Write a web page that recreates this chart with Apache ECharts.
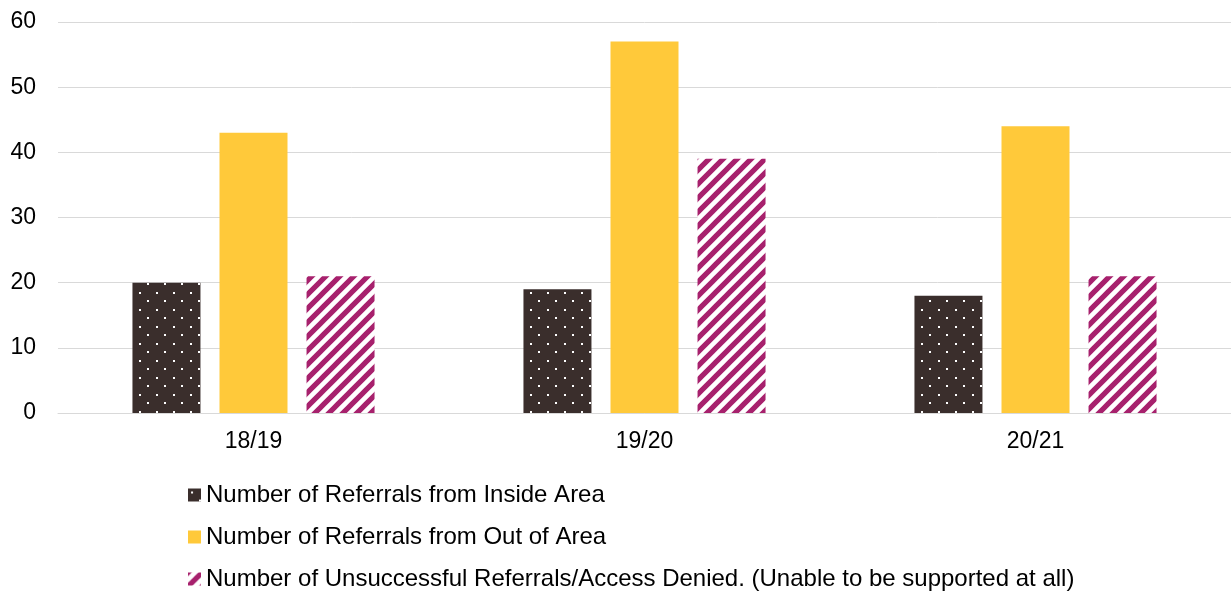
<!DOCTYPE html>
<html>
<head>
<meta charset="utf-8">
<script src="https://cdn.jsdelivr.net/npm/echarts@6/dist/echarts.min.js"></script>
<style>html,body{margin:0;padding:0;background:#fff;}#c{width:1231px;height:593px;}</style>
</head>
<body>
<div id="c"></div>
<script>
const categories = ['18/19', '19/20', '20/21'];
const insideArea = [20, 19, 18];
const outOfArea = [43, 57, 44];
const unsuccessful = [21, 39, 21];
const seriesNames = [
  'Number of Referrals from Inside Area',
  'Number of Referrals from Out of Area',
  'Number of Unsuccessful Referrals/Access Denied. (Unable to be supported at all)'
];

function dotPattern() {
  const c = document.createElement('canvas');
  c.width = 17; c.height = 17;
  const g = c.getContext('2d');
  g.fillStyle = '#3a2e2c';
  g.fillRect(0, 0, 17, 17);
  g.fillStyle = '#ffffff';
  g.fillRect(3, 3, 2, 2);
  g.fillRect(11, 11, 2, 2);
  return c;
}
function stripePattern() {
  const s = 14;
  const c = document.createElement('canvas');
  c.width = s; c.height = s;
  const g = c.getContext('2d');
  g.fillStyle = '#ffffff';
  g.fillRect(0, 0, s, s);
  g.strokeStyle = '#a7216d';
  g.lineWidth = 5.2;
  g.beginPath();
  g.moveTo(-s, s); g.lineTo(s, -s);
  g.moveTo(0, s); g.lineTo(s, 0);
  g.moveTo(0, 2 * s); g.lineTo(2 * s, 0);
  g.stroke();
  return c;
}

const chart = echarts.init(document.getElementById('c'), null, {renderer: 'canvas'});
const font = 'Liberation Sans, Arial, sans-serif';
const legendTops = [483, 525, 567];
const legends = seriesNames.map((n, i) => ({
  orient: 'horizontal',
  left: 188,
  top: legendTops[i],
  padding: 0,
  itemWidth: 13,
  itemHeight: 13,
  icon: 'rect',
  textStyle: {fontFamily: font, fontSize: 24, color: '#000'},
  data: [n]
}));
chart.setOption({
  animation: false,
  grid: {left: 58, right: 0, top: 22, bottom: 180, containLabel: false},
  legend: legends,
  xAxis: {
    type: 'category',
    data: categories,
    axisLine: {show: true, lineStyle: {color: '#d9d9d9'}},
    axisTick: {show: false},
    axisLabel: {fontFamily: font, fontSize: 23, color: '#000', margin: 17}
  },
  yAxis: {
    type: 'value',
    min: 0, max: 60, interval: 10,
    axisLine: {show: false},
    axisTick: {show: false},
    splitLine: {lineStyle: {color: '#d9d9d9', width: 1}},
    axisLabel: {fontFamily: font, fontSize: 23, color: '#000', margin: 22}
  },
  series: [
    {name: seriesNames[0], type: 'bar', data: insideArea, barWidth: 68, barGap: '28%',
     itemStyle: {color: {image: dotPattern(), repeat: 'repeat'}}},
    {name: seriesNames[1], type: 'bar', data: outOfArea, barWidth: 68, barGap: '28%',
     itemStyle: {color: '#ffc93a'}},
    {name: seriesNames[2], type: 'bar', data: unsuccessful, barWidth: 68, barGap: '28%',
     itemStyle: {color: {image: stripePattern(), repeat: 'repeat'}}}
  ]
});
</script>
</body>
</html>
